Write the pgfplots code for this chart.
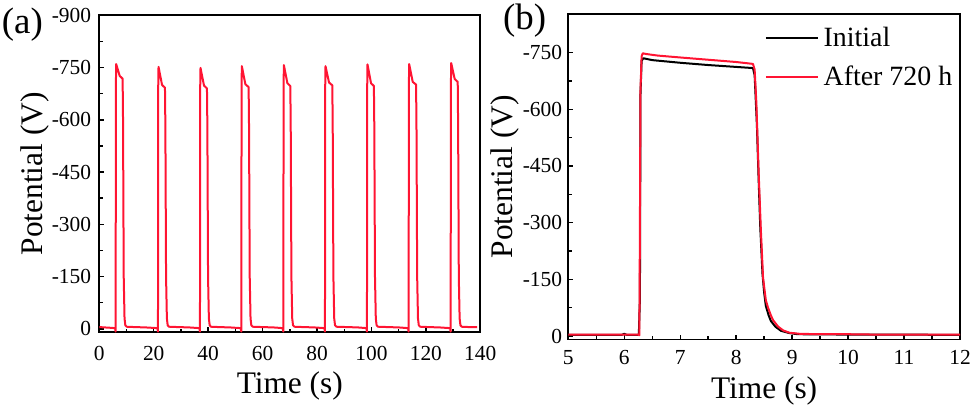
\documentclass[border=0pt]{standalone}
\usepackage{pgfplots}
\pgfplotsset{compat=1.18}
\usepackage{fontspec}
\setmainfont{Liberation Serif}
\definecolor{pred}{RGB}{255,20,50}
\begin{document}
\begin{tikzpicture}
\useasboundingbox (0,0) rectangle (975bp,411bp);
\pgfplotsset{
  every axis/.append style={
    scale only axis,
    axis line style={line width=1.9bp},
    tick align=inside,
    xtick pos=bottom, ytick pos=left,
    major tick length=5bp, minor tick length=3.5bp,
    every tick/.style={line width=1.4bp, black},
    minor tick num=1,
    y dir=reverse,
    tick label style={font=\fontsize{21.5}{21.5}\selectfont},
    label style={font=\fontsize{31.5}{31.5}\selectfont},
  }
}
% ---------- (a) ----------
\begin{axis}[
  at={(99.3bp,78.7bp)}, anchor=south west,
  width=381bp, height=317bp,
  xmin=0, xmax=140, ymin=-900, ymax=10,
  xtick={0,20,40,60,80,100,120,140},
  xticklabels={0,20,40,60,80,100,120,140},
  ytick={-900,-750,-600,-450,-300,-150,0},
  yticklabels={-900,-750,-600,-450,-300,-150,0},
  xticklabel style={anchor=north, inner sep=0pt, yshift=-14bp},
  yticklabel style={anchor=east, inner sep=0pt, xshift=-8bp},
  xlabel={Time (s)}, ylabel={Potential (V)},
  xlabel style={at={(axis description cs:0.5,-0.1924)}, anchor=base},
  ylabel style={at={(axis description cs:-0.150,0.5)}, anchor=base},
]
\addplot[pred, line width=2bp, line join=round] coordinates {
(0,-5) (2,-4) (4,-3) (5.8,-2)
(6.0,8) (6.1,-700) (6.2,-760) (7.5,-726) (8.57,-718) (8.72,-600) (8.97,-150) (9.27,-30) (9.57,-10) (10.07,-6) (13,-5) (17,-4) (21.36,-2)
(21.56,8) (21.66,-700) (21.76,-752) (23.06,-700) (24.13,-692) (24.28,-580) (24.53,-150) (24.83,-30) (25.13,-10) (25.63,-6) (29,-5) (33,-4) (36.79,-2)
(36.99,8) (37.09,-700) (37.19,-749) (38.49,-698) (39.56,-690) (39.71,-580) (39.96,-150) (40.26,-30) (40.56,-10) (41.06,-6) (44,-5) (48,-4) (51.98,-2)
(52.18,8) (52.28,-700) (52.38,-754) (53.68,-702) (54.87,-694) (55.02,-580) (55.27,-150) (55.57,-30) (55.87,-10) (56.37,-6) (60,-5) (64,-4) (67.42,-2)
(67.62,8) (67.72,-700) (67.82,-757) (69.12,-705) (70.19,-697) (70.34,-580) (70.59,-150) (70.89,-30) (71.19,-10) (71.69,-6) (75,-5) (79,-4) (82.72,-2)
(82.92,8) (83.02,-700) (83.12,-754) (84.42,-707) (85.62,-699) (85.77,-580) (86.02,-150) (86.32,-30) (86.62,-10) (87.12,-6) (91,-5) (95,-4) (98.15,-2)
(98.35,8) (98.45,-700) (98.55,-759) (99.85,-705) (100.9,-697) (101.05,-580) (101.3,-150) (101.6,-30) (101.9,-10) (102.4,-6) (106,-5) (110,-4) (113.46,-2)
(113.66,8) (113.76,-700) (113.86,-760) (115.16,-709) (116.4,-701) (116.55,-580) (116.8,-150) (117.1,-30) (117.4,-10) (117.9,-6) (121,-5) (125,-4) (128.9,-2)
(129.1,8) (129.2,-700) (129.3,-763) (130.6,-717) (131.7,-709) (131.85,-580) (132.1,-150) (132.4,-30) (132.7,-10) (133.2,-6) (136,-5) (138.8,-5)
};
\end{axis}
% ---------- (b) ----------
\begin{axis}[
  at={(568.3bp,71.5bp)}, anchor=south west,
  width=391.7bp, height=325.5bp,
  xmin=5, xmax=12, ymin=-852, ymax=9,
  xtick={5,6,7,8,9,10,11,12},
  xticklabels={5,6,7,8,9,10,11,12},
  ytick={-750,-600,-450,-300,-150,0},
  yticklabels={-750,-600,-450,-300,-150,0},
  xticklabel style={anchor=north, inner sep=0pt, yshift=-10.5bp},
  yticklabel style={anchor=east, inner sep=0pt, xshift=-6bp},
  xlabel={Time (s)}, ylabel={Potential (V)},
  xlabel style={at={(axis description cs:0.5,-0.1806)}, anchor=base},
  ylabel style={at={(axis description cs:-0.142,0.5)}, anchor=base},
  legend cell align=left,
  legend style={draw=none, fill=none, inner sep=0pt, outer sep=0pt,
    at={(axis description cs:0.5018,0.9586)}, anchor=north west,
    font=\fontsize{28}{28}\selectfont, row sep=18bp, column sep=5bp,
    nodes={inner sep=0pt}},
  legend image code/.code={\draw[#1, line width=1.8bp] (0bp,0bp) -- (52bp,0bp);},
]
\addplot[black, line width=2bp, line join=round] coordinates {
(5,-3) (5.95,-3) (6.0,-6) (6.05,-3) (6.26,-3) (6.28,-100) (6.29,-640) (6.31,-728) (6.34,-735) (6.5,-730) (7.0,-723) (7.5,-717) (8.0,-712) (8.30,-709) (8.33,-690) (8.37,-560) (8.40,-420) (8.43,-290) (8.47,-165) (8.50,-115) (8.53,-80) (8.58,-55) (8.62,-40) (8.7,-25) (8.8,-14) (8.95,-8) (9.1,-5) (10,-4) (11,-4) (12,-3)
};
\addlegendentry{Initial}
\addplot[pred, line width=2bp, line join=round] coordinates {
(5,-4) (6.0,-4) (6.25,-4) (6.27,-2) (6.28,-300) (6.29,-650) (6.31,-740) (6.33,-748) (6.4,-746) (6.6,-742) (7.0,-737) (7.5,-731) (8.0,-725) (8.30,-720) (8.33,-705) (8.36,-620) (8.40,-440) (8.44,-285) (8.48,-155) (8.53,-95) (8.57,-75) (8.62,-55) (8.66,-42) (8.75,-25) (8.84,-15) (8.95,-9) (9.14,-6) (9.5,-5) (10,-5) (10.5,-4) (11,-4) (11.5,-4) (12,-4)
};
\addlegendentry{After 720 h}
\end{axis}
\node[anchor=base west, inner sep=0pt, font=\fontsize{37}{37}\selectfont] at (1.7bp,377.5bp) {(a)};
\node[anchor=base west, inner sep=0pt, font=\fontsize{37}{37}\selectfont] at (503bp,381bp) {(b)};
\end{tikzpicture}
\end{document}
